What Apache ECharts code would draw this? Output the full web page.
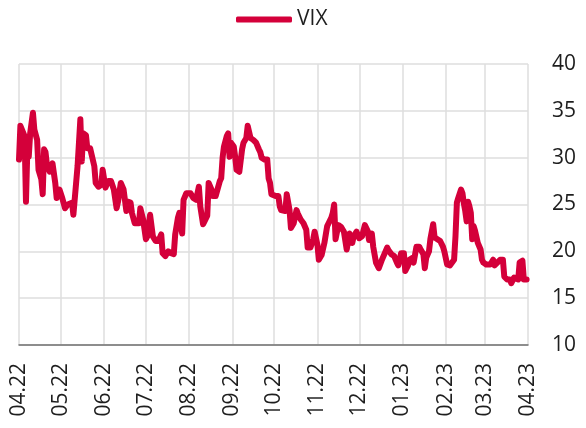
<!DOCTYPE html>
<html>
<head>
<meta charset="utf-8">
<script src="https://cdn.jsdelivr.net/npm/echarts@6/dist/echarts.min.js"></script>
<style>
  html, body { margin: 0; padding: 0; background: #fff; }
  #main { width: 586px; height: 428px; }
</style>
</head>
<body>
<div id="main"></div>
<script>
// month boundaries on the x axis and their labels
const monthStarts = ['2022-04-01', '2022-05-01', '2022-06-01', '2022-07-01', '2022-08-01', '2022-09-01',
    '2022-10-01', '2022-11-01', '2022-12-01', '2023-01-01', '2023-02-01', '2023-03-01', '2023-04-01'];
const monthLabels = ['04.22', '05.22', '06.22', '07.22', '08.22', '09.22',
    '10.22', '11.22', '12.22', '01.23', '02.23', '03.23', '04.23'];

// VIX
const dates = [
    '2022-04-01', '2022-04-02', '2022-04-03', '2022-04-05', '2022-04-06', '2022-04-07', '2022-04-08', '2022-04-09',
    '2022-04-11', '2022-04-12', '2022-04-14', '2022-04-15', '2022-04-17', '2022-04-18', '2022-04-19', '2022-04-20',
    '2022-04-21', '2022-04-23', '2022-04-25', '2022-04-27', '2022-04-28', '2022-04-30',
    '2022-05-02', '2022-05-04', '2022-05-06', '2022-05-09', '2022-05-10', '2022-05-11', '2022-05-13', '2022-05-15',
    '2022-05-16', '2022-05-17', '2022-05-19', '2022-05-20', '2022-05-22', '2022-05-25', '2022-05-26', '2022-05-28',
    '2022-05-30', '2022-05-31',
    '2022-06-02', '2022-06-04', '2022-06-06', '2022-06-08', '2022-06-10', '2022-06-11', '2022-06-13', '2022-06-15',
    '2022-06-17', '2022-06-18', '2022-06-20', '2022-06-21', '2022-06-23', '2022-06-26', '2022-06-27', '2022-06-29',
    '2022-07-01', '2022-07-02', '2022-07-04', '2022-07-05', '2022-07-06', '2022-07-08', '2022-07-10', '2022-07-12',
    '2022-07-13', '2022-07-15', '2022-07-17', '2022-07-19', '2022-07-21', '2022-07-22', '2022-07-24', '2022-07-25',
    '2022-07-27', '2022-07-28', '2022-07-30',
    '2022-08-02', '2022-08-04', '2022-08-06', '2022-08-08', '2022-08-09', '2022-08-11', '2022-08-12', '2022-08-14',
    '2022-08-15', '2022-08-17', '2022-08-18', '2022-08-20', '2022-08-21', '2022-08-23', '2022-08-24', '2022-08-25',
    '2022-08-26', '2022-08-28', '2022-08-29', '2022-08-30', '2022-08-31',
    '2022-09-02', '2022-09-03', '2022-09-04', '2022-09-06', '2022-09-08', '2022-09-09', '2022-09-11', '2022-09-12',
    '2022-09-13', '2022-09-14', '2022-09-16', '2022-09-18', '2022-09-20', '2022-09-21', '2022-09-22', '2022-09-24',
    '2022-09-26', '2022-09-27', '2022-09-28', '2022-09-29',
    '2022-10-02', '2022-10-04', '2022-10-05', '2022-10-06', '2022-10-09', '2022-10-10', '2022-10-12', '2022-10-13',
    '2022-10-15', '2022-10-17', '2022-10-18', '2022-10-20', '2022-10-22', '2022-10-24', '2022-10-25', '2022-10-27',
    '2022-10-29', '2022-10-30',
    '2022-11-01', '2022-11-02', '2022-11-04', '2022-11-06', '2022-11-08', '2022-11-09', '2022-11-11', '2022-11-12',
    '2022-11-13', '2022-11-14', '2022-11-16', '2022-11-18', '2022-11-20', '2022-11-22', '2022-11-24', '2022-11-26',
    '2022-11-27', '2022-11-29',
    '2022-12-01', '2022-12-03', '2022-12-05', '2022-12-07', '2022-12-08', '2022-12-10', '2022-12-11', '2022-12-12',
    '2022-12-13', '2022-12-15', '2022-12-17', '2022-12-19', '2022-12-21', '2022-12-22', '2022-12-24', '2022-12-26',
    '2022-12-28', '2022-12-29', '2022-12-31',
    '2023-01-02', '2023-01-03', '2023-01-05', '2023-01-06', '2023-01-08', '2023-01-09', '2023-01-11', '2023-01-13',
    '2023-01-14', '2023-01-16', '2023-01-17', '2023-01-18', '2023-01-20', '2023-01-21', '2023-01-23', '2023-01-24',
    '2023-01-26', '2023-01-28', '2023-01-30', '2023-01-31',
    '2023-02-02', '2023-02-04', '2023-02-05', '2023-02-07', '2023-02-08', '2023-02-09', '2023-02-10', '2023-02-12',
    '2023-02-13', '2023-02-14', '2023-02-15', '2023-02-16', '2023-02-17', '2023-02-18', '2023-02-19', '2023-02-20',
    '2023-02-21', '2023-02-22', '2023-02-24', '2023-02-26', '2023-02-27', '2023-02-28',
    '2023-03-02', '2023-03-05', '2023-03-07', '2023-03-08', '2023-03-10', '2023-03-12', '2023-03-14', '2023-03-15',
    '2023-03-17', '2023-03-19', '2023-03-20', '2023-03-22', '2023-03-23', '2023-03-25', '2023-03-26', '2023-03-28',
    '2023-03-29', '2023-03-30', '2023-03-31'
];
const vix = [
    29.8, 33.4, 33.2, 32.3, 25.3, 30.9, 30.1, 32.6,
    34.8, 33.0, 31.9, 28.7, 27.7, 26.1, 30.9, 30.6,
    29.3, 28.5, 29.4, 27.3, 25.7, 26.6,
    25.7, 24.6, 25.0, 25.2, 23.9, 23.9, 29.1, 34.1,
    29.6, 32.6, 32.4, 31.0, 31.0, 29.1, 27.3, 26.9,
    27.1, 28.7,
    26.8, 27.5, 27.5, 26.6, 24.6, 25.3, 27.3, 26.6,
    24.3, 25.3, 25.2, 24.1, 23.0, 23.0, 24.6, 23.4,
    21.3, 21.6, 23.9, 23.9, 21.6, 21.1, 21.1, 21.8,
    19.8, 19.5, 20.0, 19.8, 19.7, 21.8, 23.6, 24.1,
    21.9, 25.5, 26.2,
    26.2, 25.7, 25.5, 26.9, 24.8, 22.9, 23.2, 23.8,
    27.3, 26.6, 25.9, 25.9, 25.7, 27.5, 27.8, 30.0,
    31.2, 32.3, 32.6, 30.1, 31.6,
    31.2, 30.1, 28.7, 28.5, 30.9, 31.6, 32.1, 33.4,
    33.5, 32.1, 31.9, 31.6, 30.9, 30.6, 30.0, 29.8,
    29.8, 27.8, 27.3, 26.1,
    25.9, 25.9, 24.8, 24.4, 24.3, 26.1, 24.4, 22.5,
    23.0, 24.4, 24.0, 23.4, 23.0, 22.3, 20.4, 20.4,
    21.3, 22.1,
    20.7, 19.1, 19.6, 20.9, 22.7, 23.0, 23.6, 24.1,
    25.0, 21.3, 22.8, 22.6, 22.1, 20.2, 21.9, 20.9,
    21.6, 22.1,
    21.4, 21.6, 22.8, 22.2, 21.2, 21.9, 20.5, 20.7,
    18.8, 18.2, 19.0, 19.7, 20.4, 20.1, 19.7, 19.5,
    18.8, 18.5, 19.8,
    19.8, 17.9, 18.5, 19.1, 19.3, 18.8, 20.5, 20.5,
    20.2, 19.7, 18.2, 19.3, 20.0, 21.3, 22.9, 21.5,
    21.3, 21.1, 20.5, 20.0,
    18.6, 18.5, 18.6, 19.1, 21.6, 25.2, 25.7, 26.6,
    26.2, 25.1, 24.3, 23.2, 25.3, 24.8, 24.1, 21.3,
    22.7, 22.2, 20.9, 20.2, 19.1, 18.8,
    18.6, 18.6, 19.1, 18.5, 18.8, 19.1, 19.1, 17.3,
    17.0, 17.0, 16.6, 17.2, 17.0, 17.0, 18.8, 19.0,
    17.0, 17.0, 17.0
];

const yMin = 10, yMax = 40, yStep = 5;
const lineColor = '#d4003a';
const textColor = '#1e1e1e';
const fontName = 'Open Sans';

const startDay = Date.UTC(2022, 3, 1);

// days since the first of April 2022
function dayOf(s) {
    let p = s.split('-');
    return (Date.UTC(+p[0], +p[1] - 1, +p[2]) - startDay) / 86400000;
}

const monthDays = monthStarts.map(dayOf);
const seriesData = dates.map((d, i) => [dayOf(d), vix[i]]);

const option = {
    animation: false,
    legend: {
        left: 231,
        top: 4,
        icon: 'roundRect',
        itemWidth: 56,
        itemHeight: 6,
        itemGap: 10,
        itemStyle: { color: lineColor, borderWidth: 0 },
        textStyle: { fontSize: 21, color: textColor, fontFamily: fontName, padding: [0, 0, 0, 0] },
        data: ['VIX']
    },
    grid: { left: 19, right: 58, top: 64, bottom: 83 },
    xAxis: {
        type: 'value',
        min: monthDays[0],
        max: monthDays[monthDays.length - 1],
        axisLine: { show: true, lineStyle: { color: '#707070', width: 1.5 } },
        axisTick: { show: false, customValues: monthDays },
        splitLine: { show: true, customValues: monthDays, lineStyle: { color: '#dedede', width: 1.5 } },
        axisLabel: {
            customValues: monthDays,
            rotate: 90,
            margin: 18,
            fontSize: 21,
            color: textColor,
            fontFamily: fontName,
            formatter: v => monthLabels[monthDays.indexOf(v)]
        }
    },
    yAxis: {
        type: 'value',
        position: 'right',
        min: yMin,
        max: yMax,
        interval: yStep,
        axisLine: { show: false },
        axisTick: { show: false },
        splitLine: { lineStyle: { color: '#dedede', width: 1.5 } },
        axisLabel: { margin: 24, fontSize: 21, color: textColor, fontFamily: fontName }
    },
    series: [{
        name: 'VIX',
        type: 'line',
        data: seriesData,
        symbol: 'none',
        color: lineColor,
        lineStyle: { width: 6, color: lineColor, cap: 'round', join: 'round' }
    }]
};

let plot = echarts.init(document.querySelector('#main'));
plot.setOption(option);
</script>
</body>
</html>
